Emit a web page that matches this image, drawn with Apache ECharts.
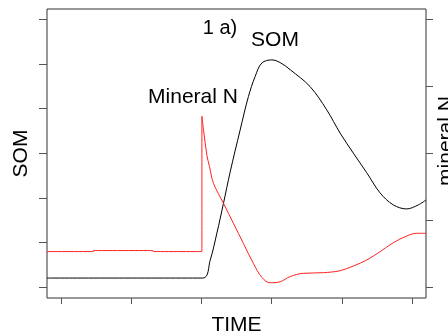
<!DOCTYPE html>
<html>
<head>
<meta charset="utf-8">
<script src="https://cdn.jsdelivr.net/npm/echarts@6/dist/echarts.min.js"></script>
<style>
  html, body { margin: 0; padding: 0; background: #fff; }
  #chart { width: 448px; height: 335px; }
</style>
</head>
<body>
<div id="chart"></div>
<script>
// 时间 (x) 与 SOM 曲线
const somTime = [-0.2, 2.02, 2.125, 2.221, 2.315, 2.41, 2.552, 2.67, 2.766, 2.861, 3.004, 3.122, 3.265, 3.549, 3.786, 3.976, 4.165, 4.356, 4.545, 4.734, 4.925, 5.09, 5.2];
const somValues = [0.2, 0.2, 0.6, 1.21, 1.88, 2.58, 3.52, 4.27, 4.72, 5.02, 5.09, 5.03, 4.87, 4.49, 3.97, 3.45, 3.0, 2.56, 2.11, 1.84, 1.75, 1.84, 1.95];
// 矿质氮曲线
const nTime = [-0.2, 0.46, 0.46, 1.31, 1.31, 2.007, 2.007, 2.03, 2.078, 2.115, 2.172, 2.315, 2.457, 2.599, 2.742, 2.861, 2.979, 3.122, 3.265, 3.453, 3.738, 3.976, 4.165, 4.356, 4.545, 4.734, 4.925, 5.068, 5.2];
const nValues = [0.53, 0.53, 0.545, 0.545, 0.53, 0.53, 2.55, 2.35, 1.97, 1.8, 1.55, 1.25, 0.95, 0.65, 0.35, 0.145, 0.064, 0.079, 0.157, 0.205, 0.214, 0.244, 0.314, 0.404, 0.528, 0.662, 0.762, 0.803, 0.803];
// 刻度
const timeTicks = [0, 1, 2, 3, 4, 5];
const somTicks = [0, 1, 2, 3, 4, 5, 6];
const nTicks = [0, 1, 2, 3, 4];

function pairs(xs, ys) {
  return xs.map((x, i) => [x, ys[i]]);
}

const chart = echarts.init(document.getElementById('chart'));
const font = 'Liberation Sans, Arial, sans-serif';
const axisColor = '#333';

chart.setOption({
  animation: false,
  grid: {
    left: 47, top: 9, right: 22, bottom: 37,
    outerBoundsMode: 'none',
    show: true, borderColor: axisColor, borderWidth: 1
  },
  xAxis: {
    type: 'value',
    min: -0.2, max: 5.2,
    name: 'TIME',
    nameLocation: 'middle',
    nameGap: 17,
    nameTextStyle: { fontSize: 21, color: '#000', fontFamily: font },
    axisLine: { show: false, onZero: false },
    splitLine: { show: false },
    axisTick: { show: true, length: 6, customValues: timeTicks, lineStyle: { color: '#555' } },
    axisLabel: { show: false }
  },
  yAxis: [{
    type: 'value',
    position: 'left',
    min: -0.247, max: 6.231,
    name: 'SOM',
    nameLocation: 'middle',
    nameGap: 15,
    nameTextStyle: { fontSize: 21, color: '#000', fontFamily: font },
    axisLine: { show: false, onZero: false },
    splitLine: { show: false },
    axisTick: { show: true, length: 8, customValues: somTicks, lineStyle: { color: '#555' } },
    axisLabel: { show: false }
  }, {
    type: 'value',
    position: 'right',
    min: -0.164, max: 4.154,
    axisLine: { show: false, onZero: false },
    splitLine: { show: false },
    axisTick: { show: true, length: 7, customValues: nTicks, lineStyle: { color: '#555' } },
    axisLabel: { show: false }
  }],
  graphic: [
    { type: 'text', x: 220, y: 28, style: { text: '1 a)', font: '20px ' + font, fill: '#000', align: 'center', verticalAlign: 'middle' } },
    { type: 'text', x: 275, y: 40, style: { text: 'SOM', font: '21px ' + font, fill: '#000', align: 'center', verticalAlign: 'middle' } },
    { type: 'text', x: 193, y: 97, style: { text: 'Mineral N', font: '21px ' + font, fill: '#000', align: 'center', verticalAlign: 'middle' } },
    { type: 'text', x: 446, y: 141, rotation: Math.PI / 2, style: { text: 'mineral N', font: '21px ' + font, fill: '#000', align: 'center', verticalAlign: 'middle' } }
  ],
  series: [{
    name: 'SOM',
    type: 'line',
    yAxisIndex: 0,
    data: pairs(somTime, somValues),
    showSymbol: false,
    smooth: 0.35,
    lineStyle: { color: '#000', width: 1 }
  }, {
    name: 'Mineral N',
    type: 'line',
    yAxisIndex: 1,
    data: pairs(nTime, nValues),
    showSymbol: false,
    smooth: 0.35,
    lineStyle: { color: '#ff2020', width: 1 }
  }]
});
</script>
</body>
</html>
